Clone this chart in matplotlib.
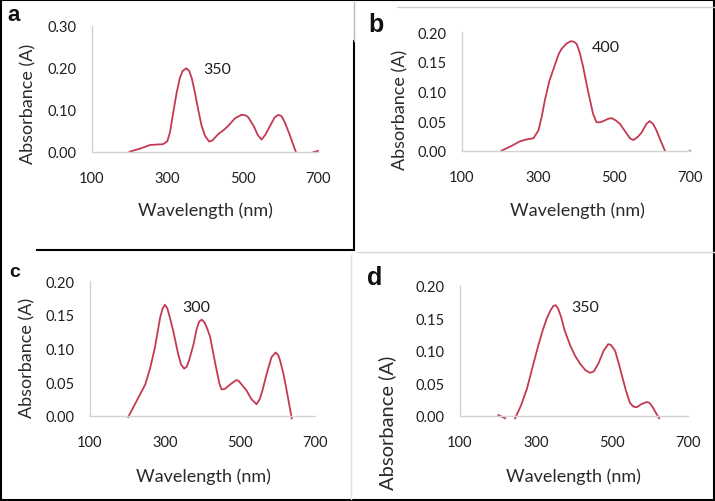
import matplotlib.pyplot as plt
from matplotlib.lines import Line2D

# panel a
wl_a = [200, 230, 254, 289, 300, 307, 315, 325, 333, 340, 350, 358, 365, 373, 382, 391, 400, 411, 420,
        435, 450, 462, 480, 497, 507, 515, 530, 540, 550, 560, 573, 585, 595, 603, 612, 625, 641]
abs_a = [0.0, 0.008, 0.016, 0.018, 0.025, 0.046, 0.090, 0.142, 0.175, 0.192, 0.199, 0.193, 0.175, 0.142, 0.100, 0.062, 0.038, 0.024, 0.027,
         0.042, 0.052, 0.062, 0.080, 0.088, 0.087, 0.082, 0.060, 0.040, 0.029, 0.040, 0.062, 0.082, 0.088, 0.085, 0.070, 0.040, 0.0]
wl_a_tail = [688, 700]
abs_a_tail = [-0.001, 0.002]

# panel b
wl_b = [204, 230, 253, 270, 288, 301, 310, 318, 330, 345, 355, 362, 375, 387, 395, 402, 410, 419, 428, 437,
        445, 454, 463, 472, 485, 494, 505, 516, 530, 542, 551, 562, 573, 585, 594, 603, 612, 622, 634]
abs_b = [0.0, 0.008, 0.016, 0.019, 0.021, 0.034, 0.058, 0.085, 0.118, 0.146, 0.164, 0.172, 0.181, 0.185, 0.184, 0.180, 0.165, 0.141, 0.112, 0.085,
         0.062, 0.048, 0.048, 0.050, 0.054, 0.055, 0.051, 0.045, 0.032, 0.021, 0.018, 0.023, 0.031, 0.045, 0.050, 0.045, 0.034, 0.018, 0.0]
wl_b_tail = [698, 701]
abs_b_tail = [0.001, 0.001]

# panel c
wl_c = [202, 215, 230, 247, 260, 273, 287, 294, 300, 306, 313, 322, 335, 343, 351, 358, 364, 376, 384, 391, 398,
        405, 411, 420, 435, 445, 451, 460, 475, 490, 496, 505, 518, 530, 544, 553, 560, 571, 584, 595, 602, 607, 616, 627, 638]
abs_c = [-0.002, 0.012, 0.028, 0.046, 0.070, 0.101, 0.146, 0.160, 0.165, 0.160, 0.146, 0.126, 0.092, 0.076, 0.070, 0.073, 0.082, 0.106, 0.128, 0.140, 0.143,
         0.139, 0.132, 0.118, 0.075, 0.048, 0.039, 0.040, 0.047, 0.053, 0.052, 0.046, 0.037, 0.025, 0.017, 0.025, 0.038, 0.062, 0.087, 0.094, 0.090, 0.082, 0.062, 0.030, -0.004]

# panel d
wl_d = [245, 260, 276, 291, 306, 318, 328, 338, 346, 352, 358, 366, 375, 390, 403, 416, 430, 442, 452, 464,
        478, 490, 497, 508, 517, 526, 537, 547, 556, 565, 578, 591, 598, 605, 614, 624]
abs_d = [-0.004, 0.015, 0.041, 0.075, 0.108, 0.132, 0.149, 0.162, 0.169, 0.170, 0.165, 0.152, 0.132, 0.108, 0.092, 0.080, 0.070, 0.066, 0.068, 0.080,
         0.100, 0.110, 0.109, 0.100, 0.082, 0.062, 0.038, 0.020, 0.014, 0.013, 0.018, 0.021, 0.020, 0.015, 0.006, -0.004]
wl_d_head = [201, 219]
abs_d_head = [0.001, -0.004]

W, H = 715, 502
LINE = '#c33a52'
FONT = 'Lato'


def fx(px):
    return px / W


def fy(py):
    return 1 - py / H


def make_axes(fig, left, right, top, bottom, ymax, ystep):
    ax = fig.add_axes([fx(left), fy(bottom), fx(right) - fx(left), fy(top) - fy(bottom)])
    ax.set_xlim(100, 700)
    ax.set_ylim(0, ymax)
    ax.set_xticks([100, 300, 500, 700])
    n = int(round(ymax / ystep))
    ticks = [i * ystep for i in range(n + 1)]
    ax.set_yticks(ticks)
    ax.set_yticklabels(['%.2f' % t for t in ticks])
    for s in ['top', 'right']:
        ax.spines[s].set_visible(False)
    for s in ['left', 'bottom']:
        ax.spines[s].set_color('#d2d2d2')
        ax.spines[s].set_linewidth(1.0)
    ax.tick_params(axis='both', length=0, labelsize=10.5, labelcolor='#1f1f1f')
    ax.tick_params(axis='x', pad=14)
    ax.tick_params(axis='y', pad=11)
    for lab in ax.get_xticklabels() + ax.get_yticklabels():
        lab.set_fontfamily(FONT)
    ax.patch.set_alpha(0)
    return ax


def labels(fig, ax, xlab_pos, ylab_pos, ysize=13):
    ax.set_xlabel('Wavelength (nm)', fontsize=13, fontfamily=FONT, color='#2a2a2a', va='center')
    ax.xaxis.set_label_coords(fx(xlab_pos[0]), fy(xlab_pos[1]), transform=fig.transFigure)
    ax.set_ylabel('Absorbance (A)', fontsize=ysize, fontfamily=FONT, color='#2a2a2a', va='center', ha='center')
    ax.yaxis.set_label_coords(fx(ylab_pos[0]), fy(ylab_pos[1]), transform=fig.transFigure)


fig = plt.figure(figsize=(7.15, 5.02), dpi=100)

ax_a = make_axes(fig, 92, 318, 27, 152.7, 0.30, 0.10)
ax_a.plot(wl_a, abs_a, color=LINE, lw=1.3, clip_on=False)
ax_a.plot(wl_a_tail, abs_a_tail, color=LINE, lw=1.3, clip_on=False)
ax_a.text(432, 0.197, '350', fontsize=11.5, fontfamily=FONT, ha='center', va='center', color='#1f1f1f')
labels(fig, ax_a, (205, 211), (28, 104))

ax_b = make_axes(fig, 462, 690, 33.3, 151.7, 0.20, 0.05)
ax_b.plot(wl_b, abs_b, color=LINE, lw=1.3, clip_on=False)
ax_b.plot(wl_b_tail, abs_b_tail, color='#999999', lw=1.0, clip_on=False)
ax_b.text(479, 0.176, '400', fontsize=11.5, fontfamily=FONT, ha='center', va='center', color='#1f1f1f')
labels(fig, ax_b, (577, 211), (400, 110))

ax_c = make_axes(fig, 90, 315, 282.3, 416.7, 0.20, 0.05)
ax_c.plot(wl_c, abs_c, color=LINE, lw=1.3, clip_on=False)
ax_c.text(383, 0.162, '300', fontsize=11.5, fontfamily=FONT, ha='center', va='center', color='#1f1f1f')
labels(fig, ax_c, (203, 477), (27, 358))

ax_d = make_axes(fig, 460, 688, 286.7, 416.7, 0.20, 0.05)
ax_d.plot(wl_d, abs_d, color=LINE, lw=1.3, clip_on=False)
ax_d.plot(wl_d_head, abs_d_head, color=LINE, lw=1.3, clip_on=False)
ax_d.text(429, 0.167, '350', fontsize=11.5, fontfamily=FONT, ha='center', va='center', color='#1f1f1f')
labels(fig, ax_d, (573, 477), (387, 423), ysize=14.5)

# panel letters
for letter, x, y, size in [('a', 7, 21, 16), ('b', 368, 32, 18), ('c', 9, 277, 14), ('d', 367, 285, 18)]:
    fig.text(fx(x), fy(y), letter, fontsize=size, fontweight='bold', fontfamily='Liberation Sans',
             ha='left', va='baseline', color='#111111')


def seg(x0, y0, x1, y1, color='black', lw=1.5):
    fig.add_artist(Line2D([fx(x0), fx(x1)], [fy(y0), fy(y1)], color=color, lw=lw,
                          transform=fig.transFigure))


# outer frame and panel borders
seg(0.5, 0.8, 714.5, 0.8)
seg(0.8, 0, 0.8, 502)
seg(714.2, 0, 714.2, 502)
seg(0, 500.8, 715, 500.8)
seg(354, 42, 354, 251)
seg(354, 3, 354, 42, color='#bbbbbb', lw=1.0)
seg(37, 251, 354, 251)
seg(397, 8, 715, 8, color='#d0d0d0', lw=1.0)
seg(351, 256, 351, 500, color='#e0e0e0', lw=1.0)
seg(357, 253, 715, 253, color='#d8d8d8', lw=1.0)

fig.savefig('out.png', dpi=100)
